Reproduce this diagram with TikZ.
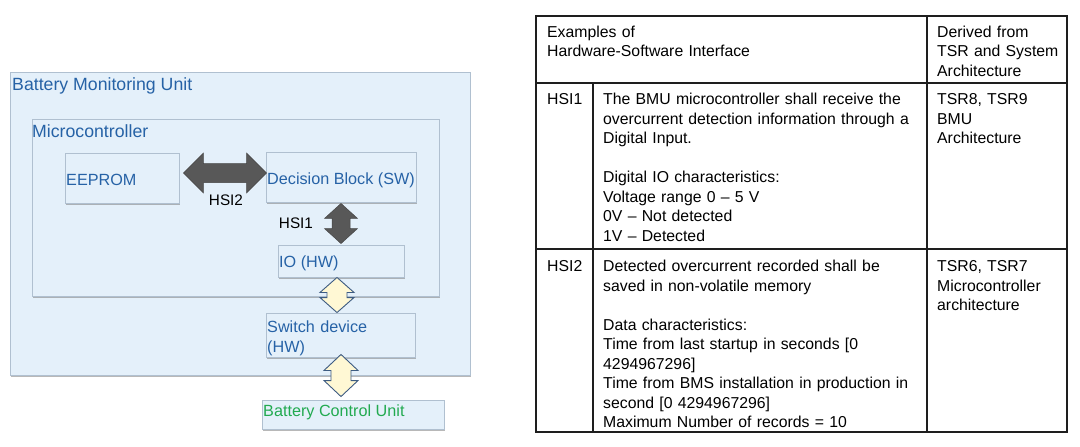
\documentclass[tikz,border=0pt]{standalone}
\usepackage{fontspec}
\setmainfont{Liberation Sans}
\usetikzlibrary{calc,shadows}
\definecolor{boxfill}{RGB}{228,240,250}
\definecolor{boxline}{RGB}{176,192,208}
\definecolor{txtblue}{RGB}{38,98,166}
\definecolor{txtgreen}{RGB}{34,170,80}
\definecolor{darkarrow}{RGB}{88,88,88}
\definecolor{yelfill}{RGB}{255,248,212}
\definecolor{yelline}{RGB}{62,92,130}
\definecolor{tabline}{RGB}{30,30,30}
\newcommand\vdblarrow[6]{%
  \draw[#6] (#1) -- ($(#1)+(#3,#5)$) -- ($(#1)+(#4,#5)$) -- ($(#2)+(#4,-#5)$)
    -- ($(#2)+(#3,-#5)$) -- (#2) -- ($(#2)+(-#3,-#5)$) -- ($(#2)+(-#4,-#5)$)
    -- ($(#1)+(-#4,#5)$) -- ($(#1)+(-#3,#5)$) -- cycle;}
\newcommand\hdblarrow[6]{%
  \draw[#6] (#1) -- ($(#1)+(#5,-#3)$) -- ($(#1)+(#5,-#4)$) -- ($(#2)+(-#5,-#4)$)
    -- ($(#2)+(-#5,-#3)$) -- (#2) -- ($(#2)+(-#5,#3)$) -- ($(#2)+(-#5,#4)$)
    -- ($(#1)+(#5,#4)$) -- ($(#1)+(#5,#3)$) -- cycle;}
\begin{document}
\begin{tikzpicture}[x=1pt,y=-1pt,
  bx/.style={draw=boxline, fill=boxfill, line width=0.9pt, rectangle, inner sep=0pt,
    drop shadow={shadow xshift=0.8pt, shadow yshift=-2.2pt, fill=black!55, opacity=0.5}},
  lbl/.style={anchor=base west, inner sep=0pt, text=txtblue, font=\fontsize{16.2}{20}\selectfont},
  biglbl/.style={lbl, font=\fontsize{17.7}{21}\selectfont},
  hsi/.style={anchor=base, inner sep=0pt, text=black, font=\fontsize{15.3}{19}\selectfont},
  darkarr/.style={fill=darkarrow, draw=darkarrow!80!black, line width=0.5pt, line join=miter},
  yelarr/.style={fill=yelfill, draw=yelline, line width=0.9pt, line join=miter},
  cell/.style={anchor=base west, inner sep=0pt, align=left, text=black,
    font=\fontsize{15.8}{19.5}\selectfont},
  tab/.style={draw=tabline, line width=1.5pt}]
\useasboundingbox[fill=white] (0,0) rectangle (1080,447);

% ---- left diagram ----
\node[bx, minimum width=460pt, minimum height=303pt] (bmu) at (240,223.5) {};
\node[bx, minimum width=407pt, minimum height=177pt] (mc) at (235.5,207.5) {};
\node[bx, minimum width=114pt, minimum height=50pt] (eeprom) at (122,178) {};
\node[bx, minimum width=150pt, minimum height=50pt] (dec) at (341,177) {};
\node[bx, minimum width=126pt, minimum height=32pt] (io) at (341,261) {};
\node[bx, minimum width=149pt, minimum height=44pt] (sw) at (340.5,335) {};
\node[bx, minimum width=182pt, minimum height=29pt] (bcu) at (353,414.5) {};

\node[biglbl] (bmuT) at (12,90) {Battery Monitoring Unit};
\node[biglbl] (mcT) at (32,137) {Microcontroller};
\node[lbl] (eepromT) at (66,185) {EEPROM};
\node[lbl] (decT) at (267,184) {Decision Block (SW)};
\node[lbl] (ioT) at (279,267) {IO (HW)};
\node[lbl, text width=145pt, align=left] (swT) at (267,332) {Switch device\\(HW)};
\node[lbl, text=txtgreen] (bcuT) at (263,416) {Battery Control Unit};

% block arrows between named boxes
\coordinate (h2L) at ($(eeprom.east)+(4,-5)$);
\coordinate (h2R) at ($(dec.west)+(1,-4)$);
\hdblarrow{h2L}{h2R}{20}{9.5}{20}{darkarr}
\coordinate (h1T) at ($(dec.south)+(0,1)$);
\coordinate (h1B) at ($(io.north)+(0,-1)$);
\vdblarrow{h1T}{h1B}{16.5}{9}{15}{darkarr}
\coordinate (y1T) at ($(io.south)+(-4,0)$);
\coordinate (y1B) at ($(sw.north)+(-3.5,0)$);
\vdblarrow{y1T}{y1B}{17}{10}{15}{yelarr}
\coordinate (y2T) at ($(sw.south)+(0.5,-3)$);
\coordinate (y2B) at ($(bcu.north)+(-12,-3)$);
\vdblarrow{y2T}{y2B}{17}{10}{16}{yelarr}

\node[hsi] (hsi2T) at (226,205) {HSI2};
\node[hsi] (hsi1T) at (296,228) {HSI1};

% ---- table ----
\draw[tab] (536,16) rectangle (1067,432);
\draw[tab] (536,83) -- (1067,83);
\draw[tab] (536,249) -- (1067,249);
\draw[tab] (593,83) -- (593,432);
\draw[tab] (927,16) -- (927,432);

\node[cell, text width=370pt] (hdrA) at (547,37.5) {Examples of\\Hardware-Software Interface};
\node[cell, text width=130pt] (hdrB) at (937,37.5) {Derived from\\TSR and System\\Architecture};
\node[cell, text width=45pt] (r1a) at (547,104.5) {HSI1};
\node[cell, text width=320pt] (r1b) at (603,104.5) {The BMU microcontroller shall receive the\\overcurrent detection information through a\\Digital Input.\\[19.5pt]Digital IO characteristics:\\Voltage range 0 – 5 V\\0V – Not detected\\1V – Detected};
\node[cell, text width=130pt] (r1c) at (937,104.5) {TSR8, TSR9\\BMU\\Architecture};
\node[cell, text width=45pt] (r2a) at (547,271.5) {HSI2};
\node[cell, text width=320pt] (r2b) at (603,271.5) {Detected overcurrent recorded shall be\\saved in non-volatile memory\\[19.5pt]Data characteristics:\\Time from last startup in seconds [0\\4294967296]\\Time from BMS installation in production in\\second [0 4294967296]\\Maximum Number of records = 10};
\node[cell, text width=130pt] (r2c) at (937,271.5) {TSR6, TSR7\\Microcontroller\\architecture};
\end{tikzpicture}
\end{document}
